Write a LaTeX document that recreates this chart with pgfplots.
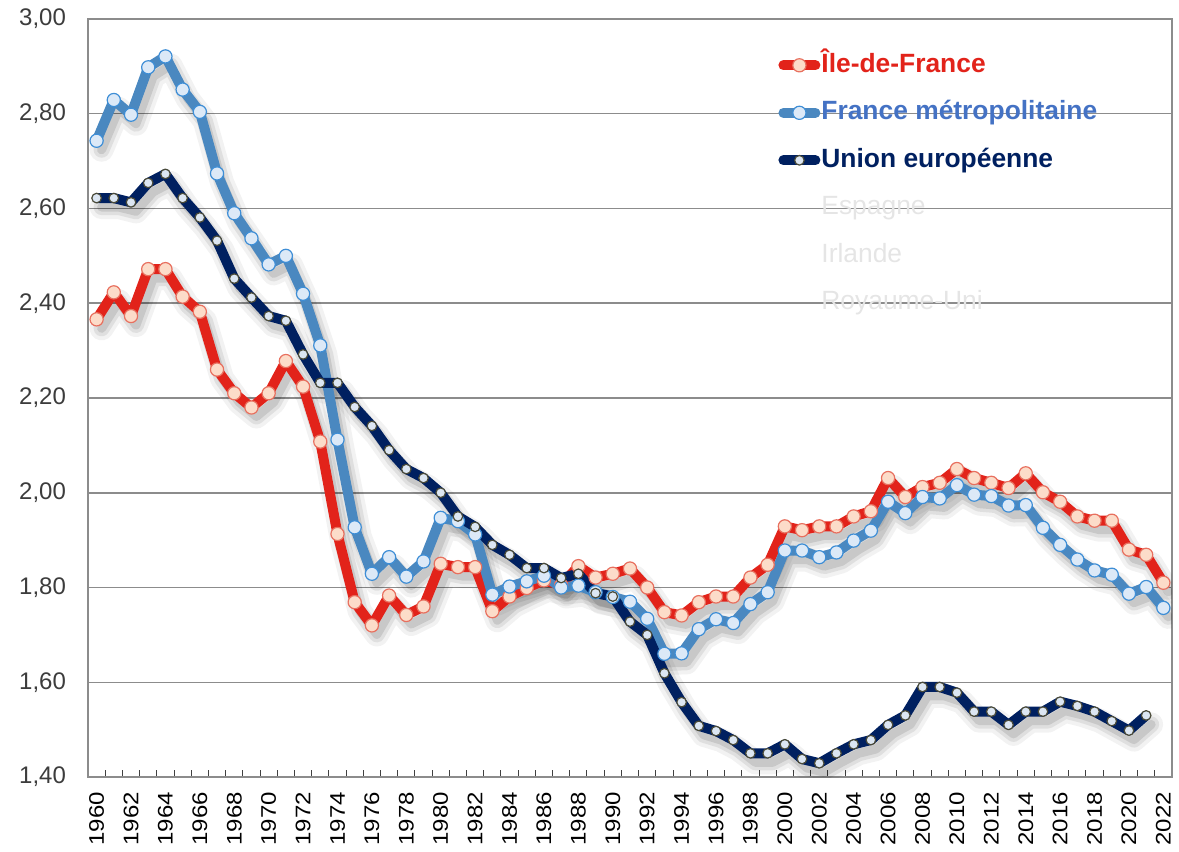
\documentclass[border=0pt]{standalone}
\usepackage{pgfplots}
\pgfplotsset{compat=1.18}
\usepackage{pgfplotstable}
\usepackage{fontspec}
\setmainfont{Liberation Sans}
\usepackage{graphicx}

\definecolor{idf}{HTML}{E2231A}
\definecolor{idffill}{HTML}{FCDCC9}
\definecolor{idfedge}{HTML}{E8705F}
\definecolor{fm}{HTML}{4A88C0}
\definecolor{fmfill}{HTML}{DCE9F7}
\definecolor{fmedge}{HTML}{3E8ED6}
\definecolor{fmtext}{HTML}{4472C4}
\definecolor{ue}{HTML}{002060}
\definecolor{uefill}{HTML}{DCE6F2}
\definecolor{ueedge}{HTML}{4A4A38}
\definecolor{gridgray}{HTML}{8C8C8C}
\definecolor{ylab}{HTML}{3C3C3C}

\pgfplotstableread{
year v
1960 2.366
1961 2.423
1962 2.373
1963 2.472
1964 2.472
1965 2.414
1966 2.382
1967 2.26
1968 2.21
1969 2.18
1970 2.21
1971 2.278
1972 2.224
1973 2.108
1974 1.913
1975 1.769
1976 1.72
1977 1.783
1978 1.742
1979 1.76
1980 1.85
1981 1.843
1982 1.843
1983 1.75
1984 1.781
1985 1.799
1986 1.815
1987 1.805
1988 1.845
1989 1.821
1990 1.829
1991 1.84
1992 1.80
1993 1.748
1994 1.741
1995 1.769
1996 1.781
1997 1.781
1998 1.821
1999 1.848
2000 1.929
2001 1.921
2002 1.929
2003 1.929
2004 1.95
2005 1.961
2006 2.031
2007 1.991
2008 2.012
2009 2.021
2010 2.05
2011 2.031
2012 2.021
2013 2.01
2014 2.041
2015 2.001
2016 1.981
2017 1.95
2018 1.941
2019 1.941
2020 1.88
2021 1.869
2022 1.81
}\idftab

\pgfplotstableread{
year v
1960 2.743
1961 2.829
1962 2.798
1963 2.898
1964 2.921
1965 2.851
1966 2.804
1967 2.674
1968 2.59
1969 2.537
1970 2.482
1971 2.50
1972 2.42
1973 2.311
1974 2.112
1975 1.927
1976 1.829
1977 1.864
1978 1.823
1979 1.855
1980 1.947
1981 1.94
1982 1.912
1983 1.785
1984 1.802
1985 1.813
1986 1.825
1987 1.80
1988 1.804
1989 1.79
1990 1.78
1991 1.77
1992 1.734
1993 1.66
1994 1.661
1995 1.712
1996 1.733
1997 1.725
1998 1.765
1999 1.79
2000 1.878
2001 1.878
2002 1.864
2003 1.874
2004 1.899
2005 1.92
2006 1.981
2007 1.957
2008 1.991
2009 1.988
2010 2.016
2011 1.996
2012 1.993
2013 1.973
2014 1.974
2015 1.926
2016 1.89
2017 1.859
2018 1.836
2019 1.827
2020 1.787
2021 1.801
2022 1.757
}\fmtab

\pgfplotstableread{
year v
1960 2.622
1961 2.622
1962 2.613
1963 2.654
1964 2.673
1965 2.622
1966 2.581
1967 2.532
1968 2.452
1969 2.412
1970 2.373
1971 2.363
1972 2.292
1973 2.232
1974 2.232
1975 2.181
1976 2.141
1977 2.09
1978 2.05
1979 2.031
1980 2.0
1981 1.95
1982 1.928
1983 1.89
1984 1.869
1985 1.841
1986 1.841
1987 1.82
1988 1.829
1989 1.788
1990 1.781
1991 1.728
1992 1.70
1993 1.619
1994 1.558
1995 1.508
1996 1.497
1997 1.478
1998 1.45
1999 1.45
2000 1.469
2001 1.438
2002 1.429
2003 1.45
2004 1.469
2005 1.478
2006 1.51
2007 1.53
2008 1.59
2009 1.59
2010 1.578
2011 1.538
2012 1.538
2013 1.51
2014 1.538
2015 1.538
2016 1.559
2017 1.55
2018 1.538
2019 1.518
2020 1.498
2021 1.53
}\uetab

\pgfplotsset{
  shadowbase/.style={forget plot, draw=black, line join=round, line cap=round, no markers},
  shadowA/.style={shadowbase, opacity=0.05, line width=12pt},
  shadowB/.style={shadowbase, opacity=0.08, line width=8pt},
  shadowC/.style={shadowbase, opacity=0.10, line width=4.5pt},
}

\begin{document}
\begin{tikzpicture}
\begin{axis}[
  scale only axis, width=542pt, height=379pt,
  xmin=1959.5, xmax=2022.5, ymin=1.4, ymax=3.0,
  ytick={1.4,1.6,1.8,2.0,2.2,2.4,2.6,2.8,3.0},
  xtick={1960,1962,...,2022},
  minor xtick={1959.5,1960.5,...,2022.5},
  major tick length=0pt, minor tick length=3.5pt,
  tick align=inside, tick pos=left,
  minor tick style={black!75, line width=0.5pt},
  ymajorgrids, grid style={gridgray, line width=0.75pt},
  axis line style={gridgray, line width=0.9pt},
  /pgf/number format/assume math mode=true,
  yticklabel style={font=\fontsize{12}{12}\selectfont, color=ylab, xshift=-7.5pt,
     /pgf/number format/.cd, fixed, fixed zerofill, precision=2, use comma},
  xticklabel={\scalebox{1}[0.88]{\pgfmathprintnumber[assume math mode=true, 1000 sep={}, fixed, precision=0]{\tick}}},
  xticklabel style={font=\fontsize{12}{12}\selectfont, rotate=90, anchor=east, xshift=-4pt},
  legend cell align=left,
  legend style={draw=none, fill=none, inner sep=0pt, at={(rel axis cs:0.6384,1)}, xshift=-3.5pt, yshift=-17pt, anchor=north west,
     font=\fontsize{13.2}{14}\selectfont\bfseries,
     nodes={inner sep=0pt, text height=9.4pt, text depth=2.5pt},
     row sep=11.85pt, column sep=-2pt},
  legend image code/.code={
     \path (0pt,0pt) (21pt,0pt);
     \draw[mark repeat=2, mark phase=2, line cap=round, #1] plot coordinates {(2.5pt,0pt) (10.5pt,0pt) (18.5pt,0pt)};
  },
]
% shadows: offset 2.5pt right (0.29 yr) and 4.5pt down (0.019 units)
\addplot[shadowA] table[x expr=\thisrow{year}+0.29, y expr=\thisrow{v}-0.019]{\idftab};
\addplot[shadowA] table[x expr=\thisrow{year}+0.29, y expr=\thisrow{v}-0.019]{\fmtab};
\addplot[shadowA] table[x expr=\thisrow{year}+0.29, y expr=\thisrow{v}-0.019]{\uetab};
\addplot[shadowB] table[x expr=\thisrow{year}+0.29, y expr=\thisrow{v}-0.019]{\idftab};
\addplot[shadowB] table[x expr=\thisrow{year}+0.29, y expr=\thisrow{v}-0.019]{\fmtab};
\addplot[shadowB] table[x expr=\thisrow{year}+0.29, y expr=\thisrow{v}-0.019]{\uetab};
\addplot[shadowC] table[x expr=\thisrow{year}+0.29, y expr=\thisrow{v}-0.019]{\idftab};
\addplot[shadowC] table[x expr=\thisrow{year}+0.29, y expr=\thisrow{v}-0.019]{\fmtab};
\addplot[shadowC] table[x expr=\thisrow{year}+0.29, y expr=\thisrow{v}-0.019]{\uetab};
% series
\addplot[idf, line width=5pt, line join=round, mark=*, mark size=3.3pt,
  mark options={fill=idffill, draw=idfedge, line width=0.6pt}] table[x=year,y=v]{\idftab};
\addlegendentry{\textcolor{idf}{Île-de-France}}
\addplot[fm, line width=5pt, line join=round, mark=*, mark size=3.3pt,
  mark options={fill=fmfill, draw=fmedge, line width=0.6pt}] table[x=year,y=v]{\fmtab};
\addlegendentry{\textcolor{fmtext}{France métropolitaine}}
\addplot[ue, line width=5pt, line join=round, mark=*, mark size=2.4pt,
  mark options={fill=uefill, draw=ueedge, line width=0.6pt}] table[x=year,y=v]{\uetab};
\addlegendentry{\textcolor{ue}{Union européenne}}
\addlegendimage{empty legend}
\addlegendentry{\textcolor{black!10}{\mdseries Espagne}}
\addlegendimage{empty legend}
\addlegendentry{\textcolor{black!10}{\mdseries Irlande}}
\addlegendimage{empty legend}
\addlegendentry{\textcolor{black!10}{\mdseries Royaume-Uni}}
\end{axis}
\pgfresetboundingbox
\path[use as bounding box] (-44pt,-37.5pt) rectangle (545.5pt,388.5pt);
\end{tikzpicture}
\end{document}
